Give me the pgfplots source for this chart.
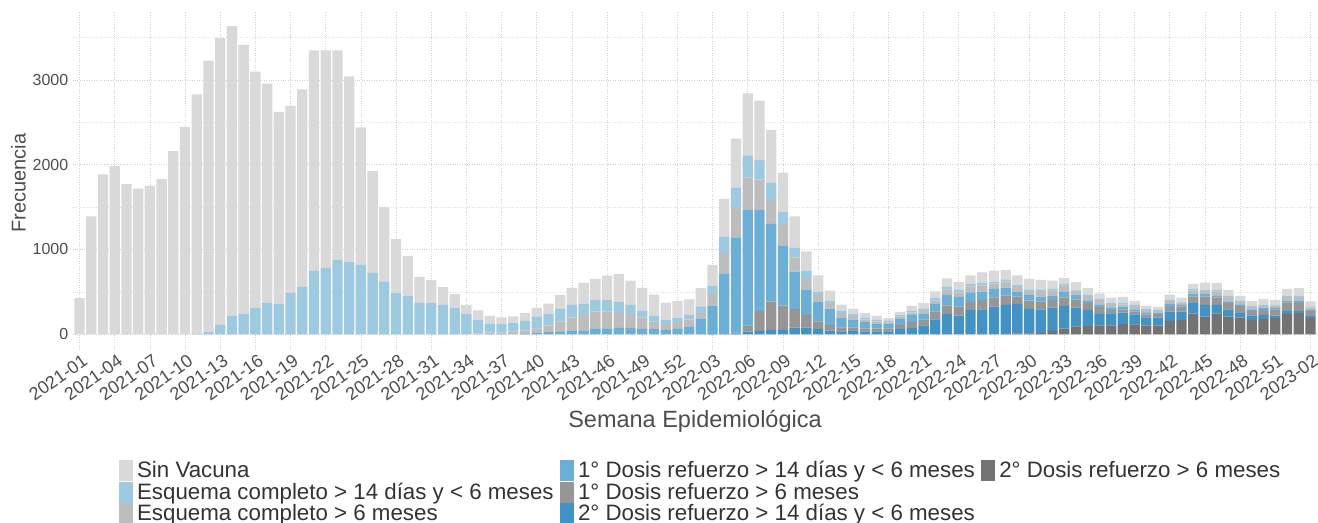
\documentclass[border=0pt]{standalone}
\usepackage{pgfplots}
\pgfplotsset{compat=1.18}
\usepackage{pgfplotstable}
\usepackage{fontspec}
\setmainfont{Liberation Sans}
\definecolor{csv}{HTML}{D9D9D9}
\definecolor{clb}{HTML}{9ECAE1}
\definecolor{clg}{HTML}{BDBDBD}
\definecolor{cmb}{HTML}{6BAED6}
\definecolor{cmg}{HTML}{969696}
\definecolor{cdb}{HTML}{4292C6}
\definecolor{cdg}{HTML}{737373}
\definecolor{txt}{HTML}{4D4D4D}
\pgfplotstableread{
x sv lb lg mb mg db dg
0 425 0 0 0 0 0 0
1 1390 0 0 0 0 0 0
2 1886 0 0 0 0 0 0
3 1984 0 0 0 0 0 0
4 1772 0 0 0 0 0 0
5 1717 0 0 0 0 0 0
6 1752 0 0 0 0 0 0
7 1831 0 0 0 0 0 0
8 2161 0 0 0 0 0 0
9 2445 0 0 0 0 0 0
10 2827 4 0 0 0 0 0
11 3200 28 0 0 0 0 0
12 3382 110 0 0 0 0 0
13 3417 217 0 0 0 0 0
14 3173 240 0 0 0 0 0
15 2791 307 0 0 0 0 0
16 2591 366 0 0 0 0 0
17 2260 362 0 0 0 0 0
18 2205 488 0 0 0 0 0
19 2331 559 0 0 0 0 0
20 2602 748 0 0 0 0 0
21 2567 783 0 0 0 0 0
22 2472 878 0 0 0 0 0
23 2185 858 0 0 0 0 0
24 1622 819 0 0 0 0 0
25 1197 728 0 0 0 0 0
26 882 618 0 0 0 0 0
27 638 484 0 0 0 0 0
28 464 457 0 0 0 0 0
29 307 370 0 0 0 0 0
30 272 366 0 0 0 0 0
31 205 350 0 0 0 0 0
32 161 315 0 0 0 0 0
33 102 244 0 0 0 0 0
34 110 165 8 0 0 0 0
35 90 106 20 0 0 0 0
36 74 106 20 0 0 0 0
37 74 103 35 0 0 0 0
38 95 110 37 10 0 0 0
39 106 138 47 20 0 0 0
40 122 134 82 24 0 0 0
41 165 146 125 28 0 0 0
42 200 146 161 39 0 0 0
43 247 130 189 39 0 0 0
44 248 138 196 71 0 0 0
45 287 138 196 71 0 0 0
46 331 117 189 75 0 0 0
47 288 106 165 75 0 0 0
48 271 76 137 63 0 0 0
49 251 67 87 63 0 0 0
50 201 47 71 51 0 0 0
51 201 47 79 63 0 0 0
52 185 51 90 87 0 0 0
53 217 80 69 179 0 0 0
54 248 94 138 333 0 5 0
55 440 197 240 709 0 10 0
56 574 243 346 1124 8 12 0
57 731 260 385 1364 71 31 0
58 699 232 358 1191 236 39 0
59 625 201 283 916 334 51 0
60 463 142 259 704 287 51 0
61 374 110 169 440 220 79 0
62 232 98 118 303 149 79 0
63 197 35 79 232 90 63 0
64 122 27 63 193 67 43 0
65 70 30 60 110 45 35 0
66 65 25 40 95 40 38 0
67 55 20 30 75 35 33 0
68 47 16 27 59 32 35 0
69 32 16 19 51 36 35 0
70 35 16 31 71 47 63 0
71 55 24 27 83 70 75 0
72 70 24 31 71 67 106 0
73 75 31 36 98 90 177 0
74 102 31 63 122 102 240 0
75 94 32 51 114 106 220 0
76 99 31 71 114 94 287 0
77 122 31 75 98 110 295 0
78 130 20 67 98 110 326 0
79 110 27 71 94 110 346 0
80 110 28 55 59 86 346 12
81 122 20 47 67 98 287 12
82 110 20 67 59 90 279 16
83 98 20 63 47 90 275 39
84 71 16 75 67 102 267 67
85 90 12 47 55 98 220 94
86 79 12 51 35 79 189 98
87 63 12 59 28 79 134 106
88 59 16 39 31 39 141 106
89 67 20 28 31 39 134 122
90 47 12 39 28 31 118 118
91 39 12 28 24 35 98 102
92 35 12 20 16 43 94 102
93 59 16 35 35 55 110 157
94 47 12 28 20 59 98 169
95 63 16 43 28 79 122 244
96 86 12 35 31 98 138 208
97 79 16 55 20 86 102 244
98 67 16 51 20 75 86 208
99 59 16 24 20 86 51 197
100 55 16 24 20 51 55 169
101 63 16 20 28 59 47 181
102 55 12 28 16 75 31 189
103 79 16 43 20 102 35 240
104 90 16 43 28 90 28 248
105 59 12 28 16 59 20 193
}\datatable

\begin{document}
\begin{tikzpicture}
\useasboundingbox (0,0) rectangle (1318bp,523bp);
\begin{axis}[
  at={(72.5bp,512.5bp)}, anchor=north west,
  scale only axis, width=1245bp, height=339.2bp,
  xmin=-0.6, xmax=105.6, ymin=-182, ymax=3819,
  ybar stacked, bar width=0.88,
  axis line style={draw=none},
  major tick length=0pt, minor tick length=0pt,
  xtick={0,3,...,105},
  xticklabels={2021-01,2021-04,2021-07,2021-10,2021-13,2021-16,2021-19,2021-22,2021-25,2021-28,2021-31,2021-34,2021-37,2021-40,2021-43,2021-46,2021-49,2021-52,2022-03,2022-06,2022-09,2022-12,2022-15,2022-18,2022-21,2022-24,2022-27,2022-30,2022-33,2022-36,2022-39,2022-42,2022-45,2022-48,2022-51,2023-02},
  ytick={0,1000,2000,3000}, yticklabels={0,1000,2000,3000},
  minor ytick={500,1500,2500,3500},
  xmajorgrids, ymajorgrids, yminorgrids,
  major grid style={dotted, draw=black!18, line width=0.7bp},
  minor grid style={dotted, draw=black!12, line width=0.7bp},
  yticklabel style={font=\fontsize{16bp}{18bp}\selectfont, text=txt, anchor=east, inner sep=0pt, xshift=-4bp},
  xticklabel style={font=\fontsize{18bp}{20bp}\selectfont, text=txt, xshift=2bp, yshift=-3.5bp, rotate=35, anchor=north east, inner sep=0pt},
  xlabel={Semana Epidemiológica}, ylabel={Frecuencia},
  xlabel style={at={(axis description cs:0.5,0)}, anchor=center, yshift=-72bp, font=\fontsize{23.5bp}{25bp}\selectfont, text=txt},
  ylabel style={at={(axis description cs:0,0.5)}, anchor=center, yshift=54bp, xshift=-3bp, font=\fontsize{20bp}{22bp}\selectfont, text=txt},
  legend columns=3, legend cell align=left,
  legend style={at={(axis description cs:0.5,0)}, anchor=north, xshift=5bp, yshift=-110bp,
    draw=none, fill=none, inner sep=0pt, row sep=0.5bp,
    font=\fontsize{22.3bp}{24bp}\selectfont, text=black!80,
    nodes={inner sep=1bp, text height=17bp, text depth=2bp},
    /tikz/every odd column/.append style={column sep=4bp},
    /tikz/every even column/.append style={column sep=5bp}},
]
\addplot[fill=cdg, draw=none, forget plot] table[x=x,y=dg]{\datatable};
\addplot[fill=cdb, draw=none, forget plot] table[x=x,y=db]{\datatable};
\addplot[fill=cmg, draw=none, forget plot] table[x=x,y=mg]{\datatable};
\addplot[fill=cmb, draw=none, forget plot] table[x=x,y=mb]{\datatable};
\addplot[fill=clg, draw=none, forget plot] table[x=x,y=lg]{\datatable};
\addplot[fill=clb, draw=none, forget plot] table[x=x,y=lb]{\datatable};
\addplot[fill=csv, draw=none, forget plot] table[x=x,y=sv]{\datatable};
\addlegendimage{legend image code/.code={\fill[csv] (0bp,-10bp) rectangle (13bp,10bp);}}
\addlegendentry{Sin Vacuna}
\addlegendimage{legend image code/.code={\fill[cmb] (0bp,-10bp) rectangle (13bp,10bp);}}
\addlegendentry{1° Dosis refuerzo > 14 días y < 6 meses}
\addlegendimage{legend image code/.code={\fill[cdg] (0bp,-10bp) rectangle (13bp,10bp);}}
\addlegendentry{2° Dosis refuerzo > 6 meses}
\addlegendimage{legend image code/.code={\fill[clb] (0bp,-10bp) rectangle (13bp,10bp);}}
\addlegendentry{Esquema completo > 14 días y < 6 meses}
\addlegendimage{legend image code/.code={\fill[cmg] (0bp,-10bp) rectangle (13bp,10bp);}}
\addlegendentry{1° Dosis refuerzo > 6 meses}
\addlegendimage{empty legend}
\addlegendentry{}
\addlegendimage{legend image code/.code={\fill[clg] (0bp,-10bp) rectangle (13bp,10bp);}}
\addlegendentry{Esquema completo > 6 meses}
\addlegendimage{legend image code/.code={\fill[cdb] (0bp,-10bp) rectangle (13bp,10bp);}}
\addlegendentry{2° Dosis refuerzo > 14 días y < 6 meses}
\end{axis}
\end{tikzpicture}
\end{document}
